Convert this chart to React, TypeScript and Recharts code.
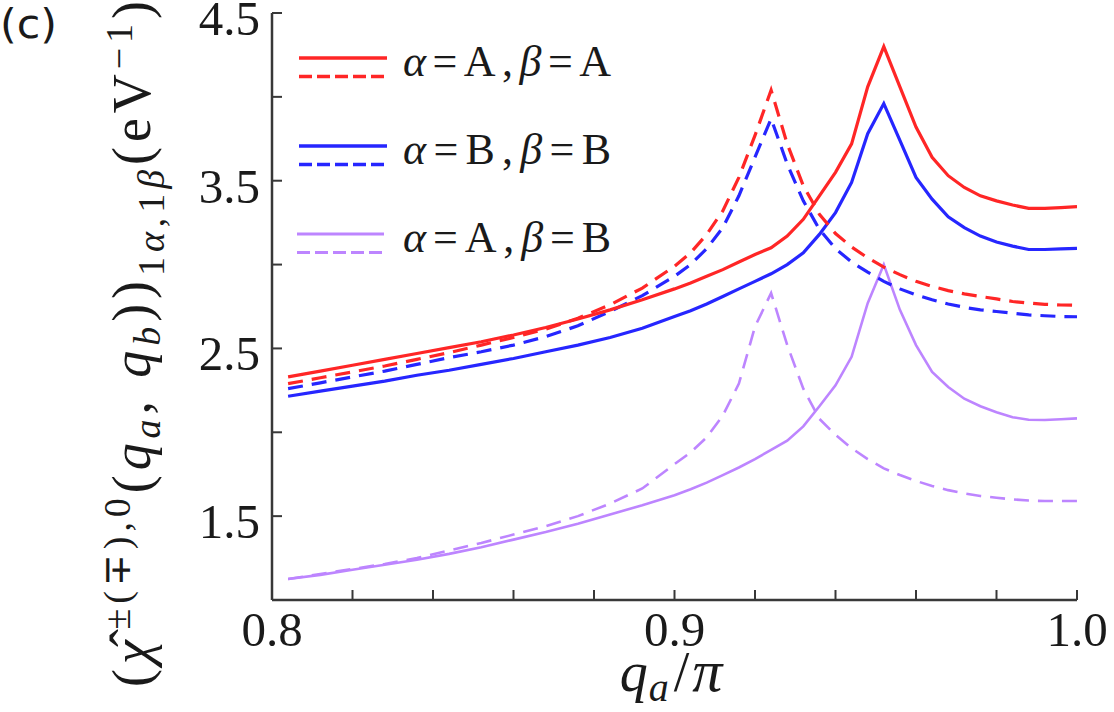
import { LineChart, Line, XAxis, YAxis, Legend } from 'recharts'

// q_a / pi sample points
const qa = [
  0.804, 0.812, 0.82, 0.828, 0.836, 0.844, 0.852, 0.86, 0.868, 0.876, 0.884, 0.892, 0.9,
  0.904, 0.908, 0.912, 0.916, 0.92, 0.924, 0.928, 0.932, 0.936, 0.94, 0.944, 0.948, 0.952,
  0.956, 0.96, 0.964, 0.968, 0.972, 0.976, 0.98, 0.984, 0.988, 0.992, 0.996, 1.0,
]

// alpha=A, beta=A
const aaSolid = [
  2.33, 2.365, 2.4, 2.435, 2.47, 2.505, 2.54, 2.58, 2.625, 2.675, 2.73, 2.79, 2.855,
  2.89, 2.93, 2.97, 3.015, 3.06, 3.1, 3.17, 3.27, 3.41, 3.55, 3.72, 4.06, 4.3,
  4.06, 3.82, 3.64, 3.53, 3.46, 3.41, 3.38, 3.355, 3.335, 3.335, 3.34, 3.345,
]
const aaDashed = [
  2.29, 2.325, 2.36, 2.395, 2.435, 2.475, 2.52, 2.565, 2.615, 2.68, 2.76, 2.86, 2.99,
  3.07, 3.18, 3.32, 3.52, 3.77, 4.04, 3.72, 3.47, 3.3, 3.185, 3.105, 3.04, 2.985,
  2.94, 2.9, 2.87, 2.845, 2.825, 2.81, 2.795, 2.78, 2.77, 2.763, 2.759, 2.757,
]

// alpha=B, beta=B
const bbSolid = [
  2.215, 2.245, 2.275, 2.305, 2.34, 2.37, 2.405, 2.44, 2.48, 2.52, 2.565, 2.62, 2.69,
  2.725, 2.765, 2.81, 2.855, 2.9, 2.945, 3.0, 3.07, 3.18, 3.31, 3.49, 3.78, 3.96,
  3.74, 3.52, 3.39, 3.285, 3.22, 3.17, 3.135, 3.11, 3.09, 3.09, 3.093, 3.097,
]
const bbDashed = [
  2.26, 2.295, 2.33, 2.365, 2.405, 2.445, 2.48, 2.52, 2.57, 2.635, 2.72, 2.815, 2.93,
  3.0, 3.095, 3.22, 3.41, 3.64, 3.87, 3.6, 3.38, 3.21, 3.095, 3.015, 2.955, 2.9,
  2.855, 2.82, 2.79, 2.765, 2.745, 2.73, 2.72, 2.71, 2.7, 2.695, 2.69, 2.689,
]

// alpha=A, beta=B
const abSolid = [
  1.125, 1.15, 1.18, 1.21, 1.24, 1.275, 1.315, 1.36, 1.405, 1.455, 1.51, 1.565, 1.625,
  1.66, 1.7, 1.745, 1.79, 1.84, 1.895, 1.95, 2.035, 2.155, 2.28, 2.45, 2.77, 3.0,
  2.73, 2.52, 2.36, 2.27, 2.2, 2.155, 2.12, 2.09, 2.075, 2.073, 2.078, 2.083,
]
const abDashed = [
  1.125, 1.155, 1.185, 1.215, 1.25, 1.295, 1.34, 1.39, 1.44, 1.5, 1.575, 1.665, 1.81,
  1.88, 1.97, 2.1, 2.29, 2.63, 2.83, 2.52, 2.26, 2.08, 1.985, 1.905, 1.84, 1.785,
  1.745, 1.71, 1.68, 1.655, 1.635, 1.62, 1.61, 1.6, 1.593, 1.59, 1.59, 1.59,
]

const xTicks = [0.8, 0.82, 0.84, 0.86, 0.88, 0.9, 0.92, 0.94, 0.96, 0.98, 1.0]
const xTickLabels = ['0.8', '0.9', '1.0']
const yTicks = [1.0, 1.5, 2.0, 2.5, 3.0, 3.5, 4.0, 4.5]
const yTickLabels = ['1.5', '2.5', '3.5', '4.5']

const legendLabels = [
  ['A', 'A'],
  ['B', 'B'],
  ['A', 'B'],
]

const RED = '#ff2626'
const BLUE = '#2626ff'
const PURPLE = '#bd85ff'
const FRAME = '#383838'
const INK = '#1a1a1a'
const serif = { fontFamily: 'Liberation Serif' }

const rows = qa.map((q, i) => ({
  q,
  aaSolid: aaSolid[i],
  aaDashed: aaDashed[i],
  bbSolid: bbSolid[i],
  bbDashed: bbDashed[i],
  abSolid: abSolid[i],
  abDashed: abDashed[i],
}))

const legendColors = [RED, BLUE, PURPLE]

function XTick({ x, y, payload }: any) {
  const s = Number(payload.value).toFixed(1)
  if (!xTickLabels.includes(s) || Math.abs(payload.value - Number(s)) > 1e-6) return null
  return (
    <text x={x} y={y + 46} textAnchor="middle" style={serif} fontSize={49} fill={INK}>
      {s}
    </text>
  )
}

function YTick({ x, y, payload }: any) {
  const s = Number(payload.value).toFixed(1)
  if (!yTickLabels.includes(s)) return null
  return (
    <text x={x} y={y + 22} textAnchor="end" style={serif} fontSize={49} fill={INK}>
      {s}
    </text>
  )
}

function YLabel() {
  return (
    <g>
      <text x={0} y={38} style={{ fontFamily: 'DejaVu Sans' }} fontSize={40} fill={INK} textLength={57} lengthAdjust="spacingAndGlyphs">
        (c)
      </text>
      <g transform="rotate(-90 150 344)">
        <text x={150} y={344} textAnchor="middle" style={serif} fontSize={54} fill={INK} textLength={686} lengthAdjust="spacing">
          <tspan>(</tspan>
          <tspan fontStyle="italic">χ</tspan>
          <tspan fontSize={38} dy={-20} dx={6}>±(∓),0</tspan>
          <tspan dy={20}>(</tspan>
          <tspan fontStyle="italic">q</tspan>
          <tspan fontSize={38} fontStyle="italic" dy={10}>a</tspan>
          <tspan dy={-10}>, </tspan>
          <tspan fontStyle="italic">q</tspan>
          <tspan fontSize={38} fontStyle="italic" dy={10}>b</tspan>
          <tspan dy={-10}>))</tspan>
          <tspan fontSize={38} dy={14}>1</tspan>
          <tspan fontSize={38} fontStyle="italic">α</tspan>
          <tspan fontSize={38}>,1</tspan>
          <tspan fontSize={38} fontStyle="italic">β</tspan>
          <tspan dy={-14}>(eV</tspan>
          <tspan fontSize={38} dy={-18}>−1</tspan>
          <tspan dy={18}>)</tspan>
        </text>
        {/* hat over chi */}
        <text x={-144} y={342} textAnchor="middle" style={serif} fontSize={54} fill={INK}>
          ˆ
        </text>
      </g>
    </g>
  )
}

function XLabel() {
  return (
    <text x={671} y={691} textAnchor="middle" style={serif} fontSize={56} fill={INK}>
      <tspan fontStyle="italic">q</tspan>
      <tspan fontSize={40} fontStyle="italic" dy={10} dx={1}>a</tspan>
      <tspan dy={-10} dx={5} fontSize={56}>/</tspan>
      <tspan fontStyle="italic" fontSize={60} dx={3}>π</tspan>
    </text>
  )
}

function LegendBox() {
  return (
    <svg width={700} height={280} style={{ display: 'block' }}>
      {legendLabels.map(([a, b], i) => {
        const y = 58 + i * 88
        const color = legendColors[i]
        const w = i === 2 ? 3 : 3.6
        const x1 = i === 2 ? 297 : 299
        const x2 = i === 2 ? 384 : 387
        return (
          <g key={i}>
            <line x1={x1} x2={x2} y1={y} y2={y} stroke={color} strokeWidth={w} />
            <line x1={x1} x2={x2} y1={y + 18.5} y2={y + 18.5} stroke={color} strokeWidth={w} strokeDasharray="13 5" />
            <text x={403} y={y + 18} style={serif} fontSize={44} fill={INK} textLength={208} lengthAdjust="spacing">
              <tspan fontStyle="italic">α</tspan>
              <tspan>={a},</tspan>
              <tspan fontStyle="italic">β</tspan>
              <tspan>={b}</tspan>
            </text>
          </g>
        )
      })}
    </svg>
  )
}

export default function App() {
  const axisLine = { stroke: FRAME, strokeWidth: 2.5 }
  const tickLine = { stroke: FRAME, strokeWidth: 2 }
  return (
    <div style={{ position: 'absolute', left: 0, top: 0, width: 1114, height: 712, background: '#fff' }}>
      <LineChart width={1114} height={712} data={rows} margin={{ top: 13, right: 37, bottom: 0, left: 0 }}>
        <XAxis
          dataKey="q"
          type="number"
          domain={[0.8, 1.0]}
          ticks={xTicks}
          height={112}
          tickSize={-10}
          tickMargin={10}
          axisLine={axisLine}
          tickLine={tickLine}
          tick={<XTick />}
          interval={0}
          label={<XLabel />}
        />
        <XAxis
          xAxisId="top"
          orientation="top"
          dataKey="q"
          type="number"
          domain={[0.8, 1.0]}
          ticks={xTicks}
          height={0}
          tickSize={-10}
          axisLine={axisLine}
          tickLine={tickLine}
          tick={false}
          interval={0}
        />
        <YAxis
          type="number"
          domain={[1.0, 4.5]}
          ticks={yTicks}
          width={272}
          tickSize={-10}
          tickMargin={22}
          axisLine={axisLine}
          tickLine={tickLine}
          tick={<YTick />}
          interval={0}
          label={<YLabel />}
        />
        <YAxis
          yAxisId="right"
          orientation="right"
          type="number"
          domain={[1.0, 4.5]}
          ticks={yTicks}
          width={0}
          tickSize={-10}
          axisLine={axisLine}
          tickLine={tickLine}
          tick={false}
          interval={0}
        />
        <Legend
          layout="vertical"
          align="center"
          verticalAlign="middle"
          content={<LegendBox />}
          wrapperStyle={{ left: 0, top: 0, width: 700, height: 280 }}
        />
        <Line dataKey="abDashed" stroke={PURPLE} strokeWidth={2.6} strokeDasharray="15 9" dot={false} type="linear" isAnimationActive={false} />
        <Line dataKey="abSolid" stroke={PURPLE} strokeWidth={2.6} dot={false} type="linear" isAnimationActive={false} />
        <Line dataKey="bbDashed" stroke={BLUE} strokeWidth={3.2} strokeDasharray="15 9" dot={false} type="linear" isAnimationActive={false} />
        <Line dataKey="bbSolid" stroke={BLUE} strokeWidth={3.2} dot={false} type="linear" isAnimationActive={false} />
        <Line dataKey="aaDashed" stroke={RED} strokeWidth={3.2} strokeDasharray="15 9" dot={false} type="linear" isAnimationActive={false} />
        <Line dataKey="aaSolid" stroke={RED} strokeWidth={3.2} dot={false} type="linear" isAnimationActive={false} />
      </LineChart>
    </div>
  )
}
